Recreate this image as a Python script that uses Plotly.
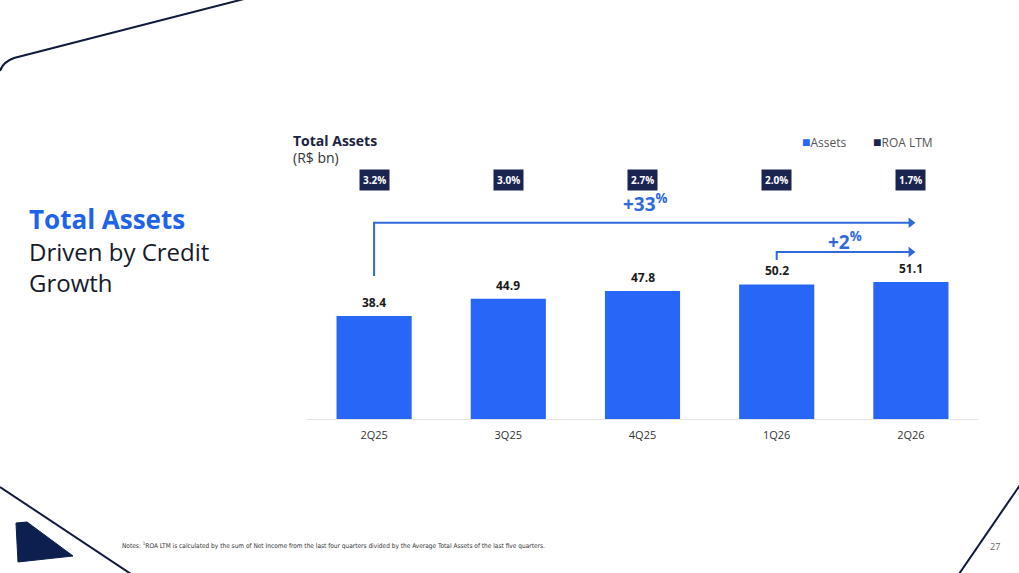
import plotly.graph_objects as go

# data
quarters = ["2Q25", "3Q25", "4Q25", "1Q26", "2Q26"]
assets = [38.4, 44.9, 47.8, 50.2, 51.1]
roa_ltm = [3.2, 3.0, 2.7, 2.0, 1.7]
growth_total = "+33"
growth_qoq = "+2"

W, H = 1019, 573
blue = "#2866F7"
arrow_blue = "#2F69DA"
navy = "#1B2451"
dark = "#1A1A1A"
font = "Open Sans, sans-serif"

xpos = list(range(len(quarters)))


def px(x, y):
    # pixel -> paper coords for slide decorations
    return x / W, 1 - y / H


def slide_text(x, y, text, size, color, anchor="left", family=font):
    return dict(
        x=px(x, 0)[0], y=px(0, y)[1], xref="paper", yref="paper",
        text=text, showarrow=False, xanchor=anchor, yanchor="middle",
        font=dict(family=family, size=size, color=color),
    )


fig = go.Figure()

fig.add_trace(go.Bar(
    x=xpos,
    y=assets,
    name="Assets",
    marker=dict(color=blue, line=dict(width=0)),
    hovertext=quarters,
    hoverinfo="text+y",
))

# growth arrows: first quarter -> last, previous quarter -> last
for start, y_from, y_lvl in [(0, 53.4, 73.2), (3, 59.3, 62.3)]:
    fig.add_trace(go.Scatter(
        x=[start, start, 4.0],
        y=[y_from, y_lvl, y_lvl],
        mode="lines",
        line=dict(color=arrow_blue, width=2),
        hoverinfo="skip",
    ))
    fig.add_trace(go.Scatter(
        x=[4.0], y=[y_lvl],
        mode="markers",
        marker=dict(symbol="triangle-right", size=9, color=arrow_blue),
        hoverinfo="skip",
    ))

annotations = []

# value labels on top of bars
for i, v in zip(xpos, assets):
    annotations.append(dict(
        x=i, y=v, xref="x", yref="y", text=f"{v:.1f}", showarrow=False,
        yanchor="bottom", yshift=3,
        font=dict(family=font, size=12, color=dark, weight="bold"),
    ))

# ROA LTM boxes
for i, r in zip(xpos, roa_ltm):
    annotations.append(dict(
        x=i, y=89, xref="x", yref="y", text=f"{r:.1f}%", showarrow=False,
        bgcolor=navy, borderpad=3,
        font=dict(family=font, size=10, color="white", weight="bold"),
    ))

annotations.append(dict(
    x=2.02, y=80.6, xref="x", yref="y",
    text=f"{growth_total}<sup>%</sup>", showarrow=False,
    font=dict(family=font, size=19, color=arrow_blue, weight="bold"),
))
annotations.append(dict(
    x=3.51, y=66.5, xref="x", yref="y",
    text=f"{growth_qoq}<sup>%</sup>", showarrow=False,
    font=dict(family=font, size=19, color=arrow_blue, weight="bold"),
))

# chart title
annotations.append(slide_text(291, 140, "<b>Total Assets</b>", 14, "#1B2340"))
annotations.append(slide_text(291, 157, "(R$ bn)", 14, "#333333"))

# legend
annotations.append(slide_text(800, 141, f"<span style='color:{blue};font-size:14px'>■</span>Assets",
                              12, "#555555"))
annotations.append(slide_text(871, 141, f"<span style='color:{navy};font-size:14px'>■</span>ROA LTM",
                              12, "#555555"))

# slide heading
annotations.append(slide_text(27, 219, "<b>Total Assets</b>", 26, "#1E63E9"))
annotations.append(slide_text(27, 251, "Driven by Credit", 24, "#161A2C"))
annotations.append(slide_text(27, 282, "Growth", 24, "#161A2C"))

# footnote and page number
annotations.append(slide_text(
    120, 545,
    "Notes: <sup>1</sup>ROA LTM is calculated by the sum of Net Income from the last four quarters "
    "divided by the Average Total Assets of the last five quarters.",
    6.5, "#333333",
    family="Liberation Sans Narrow, DejaVu Sans Condensed, Roboto Condensed, sans-serif",
))
annotations.append(slide_text(995, 546, "27", 9, "#666666", anchor="center"))


def path(points, close=False):
    s = ""
    for cmd, pts in points:
        s += cmd + " " + " ".join(f"{a:.5f},{b:.5f}" for a, b in [px(*p) for p in pts]) + " "
    return s + ("Z" if close else "")


deco = "#0F1A3C"
shapes = []
shapes.append(dict(type="path", xref="paper", yref="paper",
                   path=path([("M", [(0, 71)]), ("Q", [(3, 62), (14, 58)]), ("L", [(244, -1)])]),
                   line=dict(color=deco, width=2)))
shapes.append(dict(type="path", xref="paper", yref="paper",
                   path=path([("M", [(0, 487)]), ("L", [(131, 574)])]),
                   line=dict(color=deco, width=2)))
shapes.append(dict(type="path", xref="paper", yref="paper",
                   path=path([("M", [(16, 523)]), ("L", [(27, 522)]), ("L", [(73, 556)]), ("L", [(18, 562)])], True),
                   fillcolor="#0C1F4F", line=dict(color="#0C1F4F", width=1)))
shapes.append(dict(type="path", xref="paper", yref="paper",
                   path=path([("M", [(959, 574)]), ("L", [(1020, 485)])]),
                   line=dict(color=deco, width=2)))

fig.update_layout(
    width=W, height=H,
    margin=dict(l=0, r=0, t=0, b=0),
    paper_bgcolor="white",
    plot_bgcolor="white",
    bargap=0.44,
    showlegend=False,
    xaxis=dict(
        domain=[307 / W, 978 / W],
        range=[-0.5, 4.5],
        tickvals=xpos, ticktext=quarters,
        showgrid=False, zeroline=False,
        showline=True, linecolor="#E6E6E6", linewidth=1,
        ticks="", ticklabelstandoff=6,
        tickfont=dict(family=font, size=11, color="#333333"),
        fixedrange=True,
    ),
    yaxis=dict(
        domain=[(H - 419) / H, (H - 419) / H + 150 * 2.68 / H],
        range=[0, 150], visible=False, fixedrange=True,
    ),
    annotations=annotations,
    shapes=shapes,
)

fig.write_html("out.html", config={"displayModeBar": False},
               post_script="document.body.style.margin='0';")
